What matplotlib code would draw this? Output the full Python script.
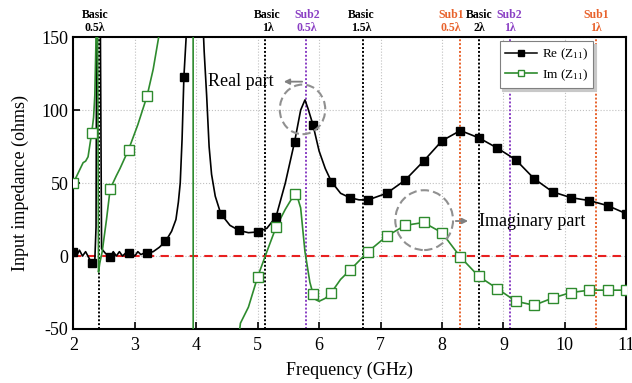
import numpy as np
import matplotlib
matplotlib.use("Agg")
import matplotlib.pyplot as plt
from matplotlib.lines import Line2D
from matplotlib.patches import Ellipse

plt.rcParams["font.family"] = ["Liberation Serif", "DejaVu Serif"]
plt.rcParams["mathtext.fontset"] = "custom"
plt.rcParams["mathtext.rm"] = "Liberation Serif"
plt.rcParams["mathtext.it"] = "Liberation Serif:italic"
plt.rcParams["axes.unicode_minus"] = False

# marker samples (every 0.3 GHz, those inside the plot window)
re_mark_f = [2.0, 2.3, 2.6, 2.9, 3.2, 3.5, 3.8, 4.4, 4.7, 5.0, 5.3, 5.6, 5.9, 6.2, 6.5,
             6.8, 7.1, 7.4, 7.7, 8.0, 8.3, 8.6, 8.9, 9.2, 9.5, 9.8, 10.1, 10.4, 10.7, 11.0]
re_mark_v = [3, -5, -1, 2, 2, 10, 123, 29, 17.5, 16.5, 27, 78, 90, 51, 40,
             38.5, 43, 52, 65, 79, 86, 81, 74, 66, 53, 44, 40, 38, 34.5, 29]
im_mark_f = [2.0, 2.3, 2.6, 2.9, 3.2, 5.0, 5.3, 5.6, 5.9, 6.2, 6.5, 6.8, 7.1, 7.4, 7.7,
             8.0, 8.3, 8.6, 8.9, 9.2, 9.5, 9.8, 10.1, 10.4, 10.7, 11.0]
im_mark_v = [50, 84.6, 46, 73, 109.6, -14.3, 19.8, 42.5, -25.7, -25, -9.8, 3.1, 13.6, 21, 23,
             16, -0.7, -14, -22.3, -31, -33.7, -28.8, -25, -23.4, -23.4, -23.4]

# extra points of the traces between markers (values beyond the window are clipped)
re_extra_f = [2.05, 2.1, 2.15, 2.2, 2.25, 2.35, 2.37, 2.38, 2.44, 2.46, 2.52, 2.65, 2.7,
              2.75, 2.8, 2.85, 2.95, 3.0, 3.05, 3.1, 3.15, 3.3, 3.4, 3.6, 3.67, 3.71, 3.74,
              3.77, 3.85, 4.11, 4.13, 4.17, 4.21, 4.25, 4.31, 4.55, 4.85, 5.15, 5.45, 5.7,
              5.77, 5.82, 6.0, 6.1, 6.35, 6.65]
re_extra_v = [0, 4, 0, 3, -1, -3, 20, 160, 160, 5, 2, 3, 0,
              3, 0, 2, 2, 0, 3, 1, 2, 3, 6, 17, 25, 37, 50,
              80, 160, 160, 140, 110, 75, 56, 41, 21, 16, 19, 50, 100,
              107, 101, 72, 60, 43, 38.5]
im_extra_f = [2.08, 2.16, 2.2, 2.24, 2.33, 2.35, 2.375, 2.395, 2.41, 2.43, 2.47, 2.54,
              2.7, 2.76, 3.05, 3.3, 3.43, 3.95, 3.951, 4.68, 4.72, 4.85, 5.15, 5.45,
              5.65, 5.7, 5.77, 5.85, 5.95, 6.0, 6.1, 6.35]
im_extra_v = [57, 64, 65, 68, 95, 110, 160, 160, -11, -5, 3, 25,
              55, 60, 90, 128, 160, 160, -60, -60, -46, -35, 3, 32,
              40, 33, 3, -18, -30, -31, -29, -16]

# resonance markers at the top: (frequency, label frequency, text, colour)
res_f = [2.41, 5.12, 5.79, 6.72, 8.29, 8.61, 9.10, 10.51]
res_label_f = [2.35, 5.16, 5.80, 6.68, 8.15, 8.61, 9.10, 10.51]
res_text = ["Basic\n0.5λ", "Basic\n1λ", "Sub2\n0.5λ", "Basic\n1.5λ",
            "Sub1\n0.5λ", "Basic\n2λ", "Sub2\n1λ", "Sub1\n1λ"]
res_kind = ["basic", "basic", "sub2", "basic", "sub1", "basic", "sub2", "sub1"]
kind_color = {"basic": "black", "sub2": "#8a3fc4", "sub1": "#e8622c"}

GREEN = "#2e8b2e"


def merged(f1, v1, f2, v2):
    f = np.array(f1 + f2, dtype=float)
    v = np.array(v1 + v2, dtype=float)
    order = np.argsort(f, kind="stable")
    return f[order], v[order]


fig = plt.figure(figsize=(6.32, 3.83), dpi=100)
ax = fig.add_axes([0.116, 0.141, 0.875, 0.762])

ax.grid(True, linestyle=":", color="#c0c0c0", linewidth=0.8)
ax.axhline(0, color="#e82020", linestyle=(0, (4, 3)), linewidth=1.5, zorder=2)

for f, kind in zip(res_f, res_kind):
    ax.axvline(f, color=kind_color[kind], linestyle=(0, (1, 1)), linewidth=1.4, zorder=2)
for lf, txt, kind in zip(res_label_f, res_text, res_kind):
    ax.text(lf, 1.012, txt, transform=ax.get_xaxis_transform(), ha="center", va="bottom",
            fontsize=8.5, fontweight="bold", color=kind_color[kind], linespacing=1.05)

rf, rv = merged(re_mark_f, re_mark_v, re_extra_f, re_extra_v)
imf, imv = merged(im_mark_f, im_mark_v, im_extra_f, im_extra_v)
ax.plot(rf, rv, color="black", linewidth=1.2, zorder=3)
ax.plot(imf, imv, color=GREEN, linewidth=1.2, zorder=3)
ax.plot(re_mark_f, re_mark_v, linestyle="none", marker="s", markersize=6,
        color="black", zorder=4)
ax.plot(im_mark_f, im_mark_v, linestyle="none", marker="s", markersize=6.5,
        markerfacecolor="white", markeredgecolor=GREEN, markeredgewidth=1.0, zorder=4)

# highlight circles and labels
ax.add_patch(Ellipse((5.73, 100.5), 0.74, 34, fill=False, edgecolor="#909090",
                     linestyle=(0, (4, 2)), linewidth=1.5, zorder=5))
ax.add_patch(Ellipse((7.71, 24.6), 0.94, 41, fill=False, edgecolor="#909090",
                     linestyle=(0, (4, 2)), linewidth=1.5, zorder=5))
ax.annotate("", xy=(5.38, 119.5), xytext=(5.77, 119.5),
            arrowprops=dict(arrowstyle="-|>", color="#808080", lw=1.3, mutation_scale=8))
ax.text(5.26, 119.5, "Real part", ha="right", va="center", fontsize=13)
ax.annotate("", xy=(8.47, 24), xytext=(8.18, 24),
            arrowprops=dict(arrowstyle="-|>", color="#808080", lw=1.3, mutation_scale=8))
ax.text(8.6, 24, "Imaginary part", ha="left", va="center", fontsize=13)

ax.set_xlim(2, 11)
ax.set_ylim(-50, 150)
ax.set_xticks(range(2, 12))
ax.set_yticks([-50, 0, 50, 100, 150])
ax.tick_params(direction="in", length=5, width=1.2, labelsize=13, top=False, right=False)
ax.tick_params(axis="x", pad=6)
for s in ax.spines.values():
    s.set_linewidth(1.5)
ax.set_xlabel("Frequency (GHz)", fontsize=13, labelpad=5)
ax.set_ylabel("Input impedance (ohms)", fontsize=13, labelpad=9)

handles = [
    Line2D([], [], color="black", linewidth=1.1, marker="s", markersize=4.5),
    Line2D([], [], color=GREEN, linewidth=1.2, marker="s", markersize=4.5,
           markerfacecolor="white", markeredgecolor=GREEN),
]
leg = ax.legend(handles, ["Re (Z$_{11}$)", "Im (Z$_{11}$)"], loc="upper right",
                bbox_to_anchor=(0.945, 0.995), fontsize=9.5, handlelength=2.4,
                fancybox=False, shadow={"color": "#c8c8c8", "alpha": 1.0},
                framealpha=1, borderpad=0.4, labelspacing=0.4, handletextpad=0.4,
                borderaxespad=0.2)
leg.get_frame().set_edgecolor("#808080")
leg.get_frame().set_linewidth(0.8)

fig.savefig("out.png", dpi=100)
